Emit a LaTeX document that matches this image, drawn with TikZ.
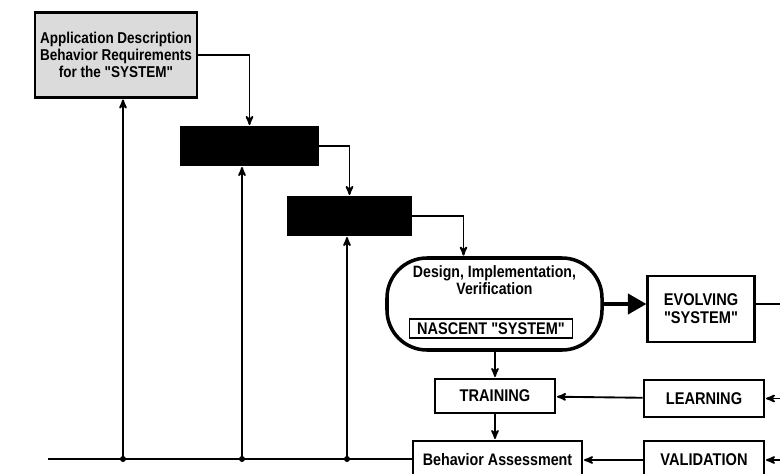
\documentclass[tikz,border=0pt]{standalone}
\usepackage{fontspec}
\setmainfont{Liberation Sans}[Ligatures=TeXOff]
\newfontfamily\boxfont{Liberation Sans}[FakeStretch=0.86, Ligatures=TeXOff]
\usetikzlibrary{arrows,positioning}
\tikzset{
  blk/.style={draw, line width=2.4pt, align=center, inner sep=0pt,
    font=\boxfont\bfseries\fontsize{14.2}{15}\selectfont},
  capsbox/.style={blk, font=\boxfont\bfseries\fontsize{14.5}{15.5}\selectfont},
  conn/.style={->, line width=1.6pt, shorten >=0.5pt},
}

\begin{document}
\begin{tikzpicture}[>=stealth', x=0.03cm, y=-0.03cm]
\useasboundingbox (0,0) rectangle (780,474);
\clip (0,0) rectangle (780,474);
% Define the boxes
\node[blk, fill=gray!28, minimum width=4.86cm, minimum height=2.55cm, font=\boxfont\bfseries\fontsize{13.4}{14.6}\selectfont] (A) at (116,55) {Application Description\\Behavior Requirements\\for the "SYSTEM"};
\node[blk, fill=black, minimum width=4.11cm, minimum height=1.14cm] (B) at (249.5,146) {};
\node[blk, fill=black, minimum width=3.66cm, minimum height=1.14cm] (C) at (349.5,216) {};
\node[draw, line width=3pt, rounded corners=1.2cm, minimum width=6.45cm, minimum height=2.76cm] (D) at (494.5,304) {};
\node[align=center, font=\boxfont\bfseries\fontsize{14}{14.5}\selectfont] (Dt) at (494.5,280) {Design, Implementation,\\Verification};
\node[draw, line width=1.3pt, minimum width=4.89cm, minimum height=0.56cm, inner sep=0pt, font=\boxfont\bfseries\fontsize{14.4}{15}\selectfont] (N) at (491,328.5) {NASCENT "SYSTEM"};
\node[capsbox, minimum width=3.2cm, minimum height=1.98cm] (E) at (701,309) {EVOLVING\\"SYSTEM"};
\node[capsbox, minimum width=3.6cm, minimum height=1.02cm] (T) at (495,396) {TRAINING};
\node[blk, minimum width=5.07cm, minimum height=1.14cm] (BA) at (497.5,460) {Behavior Assessment};
\node[capsbox, minimum width=3.6cm, minimum height=1.11cm] (L) at (704,398.5) {LEARNING};
\node[capsbox, minimum width=3.6cm, minimum height=1.14cm] (V) at (704,460) {VALIDATION};

% Free ends and junctions
\coordinate (left) at (48,459);
\coordinate (j1) at (123,459);
\coordinate (j2) at (242,459);
\coordinate (j3) at (347,459);
\coordinate (rE) at (790,304);
\coordinate (rL) at (790,398.5);
\coordinate (rV) at (790,460);

% Draw the connectors
\draw[conn] (A.east) -| (B.north);
\draw[conn] (B.east) -| (C.north);
\draw[conn] (C.east) -| ([xshift=-0.93cm]D.north);
\draw[-triangle 60, line width=3.4pt] (D.east |- rE) -- (E.west |- rE);
\draw[line width=1.6pt] (E.east |- rE) to (rE);
\draw[conn] (T.north |- D.south) to (T.north);
\draw[conn] (T.south) to (T.south |- BA.north);
\draw[conn] (L) to (T);
\draw[conn] (V) to (BA);
\draw[conn] (rL) to (L);
\draw[conn] (rV) to (V);

\draw[line width=1.6pt] (left) to (left -| BA.west);
\draw[conn] (j1) to (j1 |- A.south);
\draw[conn] (j2) to (j2 |- B.south);
\draw[conn] (j3) to (j3 |- C.south);
\foreach \j in {j1,j2,j3}
  \fill (\j) circle (0.09cm);
\end{tikzpicture}
\end{document}
